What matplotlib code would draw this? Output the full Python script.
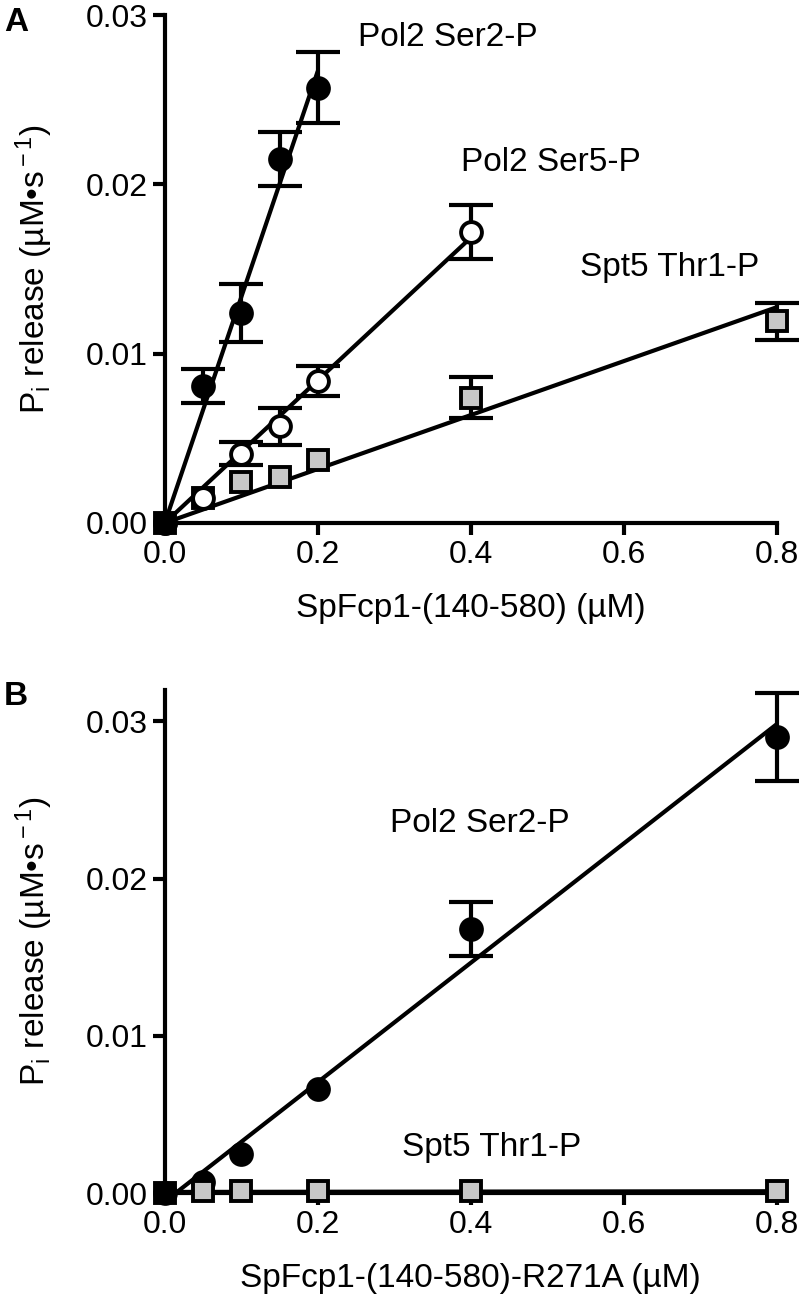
import numpy as np
import matplotlib
matplotlib.use("Agg")
import matplotlib.pyplot as plt

plt.rcParams['font.family'] = ['Liberation Sans', 'DejaVu Sans']
plt.rcParams['mathtext.fontset'] = 'custom'
plt.rcParams['mathtext.rm'] = 'Liberation Sans'
plt.rcParams['mathtext.it'] = 'Liberation Sans:italic'

# ---------------- Panel A data ----------------
a_ser2_x = [0.0, 0.05, 0.10, 0.15, 0.20]
a_ser2_y = [0.0, 0.0081, 0.0124, 0.0215, 0.0257]
a_ser2_e = [0.0, 0.0010, 0.0017, 0.0016, 0.0021]

a_ser5_x = [0.0, 0.05, 0.10, 0.15, 0.20, 0.40]
a_ser5_y = [0.0, 0.0015, 0.0041, 0.0057, 0.0084, 0.0172]
a_ser5_e = [0.0, 0.0, 0.0007, 0.0011, 0.0009, 0.0016]

a_thr1_x = [0.0, 0.05, 0.10, 0.15, 0.20, 0.40, 0.80]
a_thr1_y = [0.0, 0.0015, 0.0024, 0.0027, 0.0037, 0.0074, 0.0119]
a_thr1_e = [0.0, 0.0, 0.0, 0.0, 0.0, 0.0012, 0.0011]

# ---------------- Panel B data ----------------
b_ser2_x = [0.0, 0.05, 0.10, 0.20, 0.40, 0.80]
b_ser2_y = [0.0, 0.0007, 0.0025, 0.0066, 0.0168, 0.0290]
b_ser2_e = [0.0, 0.0, 0.0, 0.0, 0.0017, 0.0028]

b_thr1_x = [0.0, 0.05, 0.10, 0.20, 0.40, 0.80]
b_thr1_y = [0.0, 0.0001, 0.0001, 0.0001, 0.0001, 0.0001]
b_thr1_e = [0.0, 0.0, 0.0, 0.0, 0.0, 0.0]

x_ticks = [0.0, 0.2, 0.4, 0.6, 0.8]
x_ticklabels = ['0.0', '0.2', '0.4', '0.6', '0.8']
y_ticks = [0.0, 0.01, 0.02, 0.03]
y_ticklabels = ['0.00', '0.01', '0.02', '0.03']

ylabel = r'P$_{\rm i}$ release (µM•s$^{\rm -1}$)'
a_xlabel = 'SpFcp1-(140-580) (µM)'
b_xlabel = 'SpFcp1-(140-580)-R271A (µM)'

LW = 3.0
MS_O = 15
MS_S = 15
CAP = 16
GRAY = '#c8c8c8'

fig = plt.figure(figsize=(8, 13.1), dpi=100)
axA = fig.add_axes([0.206, 0.6008, 0.765, 0.3877])
axB = fig.add_axes([0.206, 0.0893, 0.765, 0.3840])


def style(ax, ytop, xlabel):
    ax.set_xlim(0, 0.8)
    ax.set_ylim(0, ytop)
    for s in ['top', 'right']:
        ax.spines[s].set_visible(False)
    for s in ['left', 'bottom']:
        ax.spines[s].set_linewidth(LW)
    ax.set_xticks(x_ticks)
    ax.set_xticklabels(x_ticklabels)
    ax.set_yticks(y_ticks)
    ax.set_yticklabels(y_ticklabels)
    ax.tick_params(direction='out', length=8.5, width=LW, labelsize=23, pad=4)
    for lab in ax.get_xticklabels() + ax.get_yticklabels():
        lab.set_family(['Liberation Sans Narrow', 'Liberation Sans'])
    ax.set_xlabel(xlabel, fontsize=24, labelpad=16)
    ax.set_ylabel(ylabel, fontsize=24, labelpad=22)


def fit_origin(x, y):
    x = np.asarray(x); y = np.asarray(y)
    return np.sum(x * y) / np.sum(x * x)


def series(ax, x, y, e, marker, face, z):
    x = np.asarray(x); y = np.asarray(y); e = np.asarray(e)
    m = e > 0
    if m.any():
        ax.errorbar(x[m], y[m], yerr=e[m], fmt='none', ecolor='black',
                    elinewidth=LW, capsize=CAP, capthick=LW, zorder=z, clip_on=False)
    for xi, yi in zip(x, y):
        origin = (xi == 0)
        fc = 'black' if origin else face
        zz = z + 0.5 + (10 if (origin and marker == 's') else 0)
        ax.plot([xi], [yi], marker=marker, ms=MS_O if marker == 'o' else MS_S,
                mfc=fc, mec='black', mew=2.8, ls='none', zorder=zz, clip_on=False)


# Panel A
style(axA, 0.03, a_xlabel)
for x, y in [(a_ser2_x, a_ser2_y), (a_ser5_x, a_ser5_y), (a_thr1_x, a_thr1_y)]:
    k = fit_origin(x, y)
    xs = np.array([0, max(x)])
    axA.plot(xs, k * xs, color='black', lw=LW, zorder=2, solid_capstyle='butt')
series(axA, a_thr1_x, a_thr1_y, a_thr1_e, 's', GRAY, 3)
series(axA, a_ser5_x, a_ser5_y, a_ser5_e, 'o', 'white', 4)
series(axA, a_ser2_x, a_ser2_y, a_ser2_e, 'o', 'black', 5)
axA.text(0.252, 0.0287, 'Pol2 Ser2-P', fontsize=24, va='center', ha='left')
axA.text(0.387, 0.0213, 'Pol2 Ser5-P', fontsize=24, va='center', ha='left')
axA.text(0.543, 0.0151, 'Spt5 Thr1-P', fontsize=24, va='center', ha='left')

# Panel B
style(axB, 0.032, b_xlabel)
p = np.polyfit(b_ser2_x, b_ser2_y, 1)
xs = np.array([0, max(b_ser2_x)])
axB.plot(xs, np.polyval(p, xs), color='black', lw=LW, zorder=2)
q = np.polyfit(b_thr1_x, b_thr1_y, 1)
axB.plot(xs, np.polyval(q, xs), color='black', lw=LW, zorder=2, clip_on=False)
series(axB, b_ser2_x, b_ser2_y, b_ser2_e, 'o', 'black', 3)
series(axB, b_thr1_x, b_thr1_y, b_thr1_e, 's', GRAY, 4)
axB.text(0.295, 0.0235, 'Pol2 Ser2-P', fontsize=24, va='center', ha='left')
axB.text(0.31, 0.0029, 'Spt5 Thr1-P', fontsize=24, va='center', ha='left')

fig.text(0.005, 0.983, 'A', fontsize=24, fontweight='bold', va='center', ha='left')
fig.text(0.005, 0.468, 'B', fontsize=24, fontweight='bold', va='center', ha='left')

fig.savefig('out.png', dpi=100)
